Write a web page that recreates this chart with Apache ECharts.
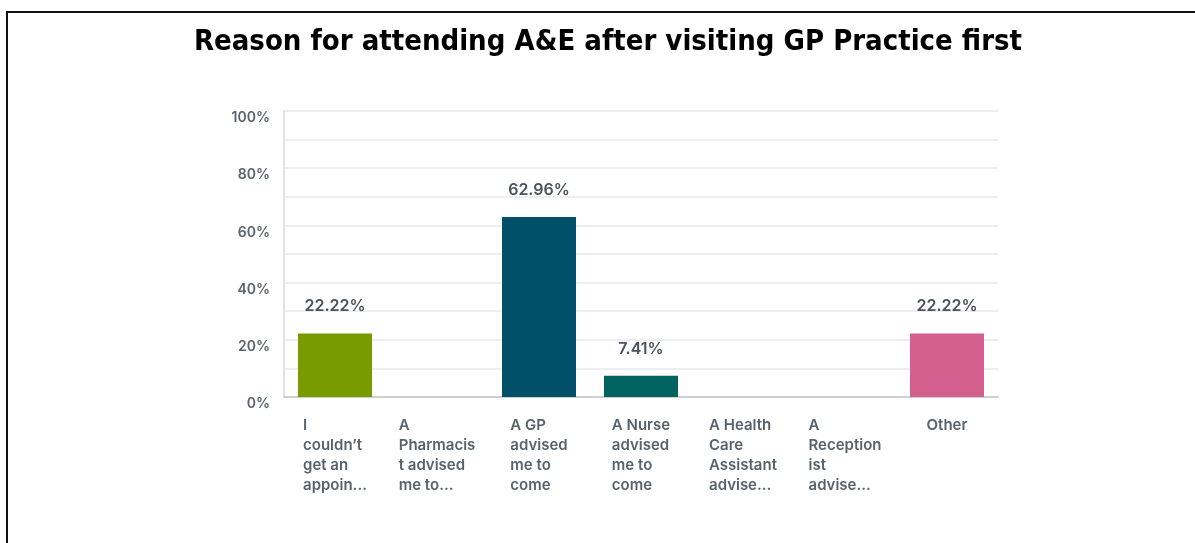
<!DOCTYPE html>
<html>
<head>
<meta charset="utf-8">
<title>Reason for attending A&amp;E after visiting GP Practice first</title>
<script src="https://cdn.jsdelivr.net/npm/echarts@6/dist/echarts.min.js"></script>
<style>
  html, body { margin: 0; padding: 0; background: #ffffff; }
  #frame {
    position: absolute; left: 6px; top: 11px; right: 0; bottom: 0;
    border-top: 2px solid #111; border-left: 2px solid #111;
    box-sizing: border-box;
  }
  #chart { position: absolute; left: 0; top: 0; width: 1195px; height: 543px; }
</style>
</head>
<body>
<div id="frame"></div>
<div id="chart"></div>
<script>
// Answer options (already wrapped and shortened for display under the bars)
const categories = [
  "I\ncouldn\u2019t\nget an\nappoin...",
  "A\nPharmacis\nt advised\nme to...",
  "A GP\nadvised\nme to\ncome",
  "A Nurse\nadvised\nme to\ncome",
  "A Health\nCare\nAssistant\nadvise...",
  "A\nReception\nist\nadvise...",
  "Other"
];
// Share of respondents (%)
const percentages = [22.22, 0, 62.96, 7.41, 0, 0, 22.22];
const barColors = ["#789b00", "#789b00", "#00506a", "#00635f", "#00635f", "#00635f", "#d35f8f"];
const yTicks = [0, 20, 40, 60, 80, 100];

const chart = echarts.init(document.getElementById('chart'), null, { renderer: 'canvas' });

chart.setOption({
  animation: false,
  backgroundColor: 'transparent',
  title: {
    text: 'Reason for attending A&E after visiting GP Practice first',
    left: 603, top: 23, textAlign: 'center',
    textStyle: {
      fontFamily: '"DejaVu Sans Condensed", "DejaVu Sans", sans-serif',
      fontWeight: 'bold', fontSize: 29, color: '#000000'
    }
  },
  grid: { left: 284, right: 197, top: 111, bottom: 146, containLabel: false },
  xAxis: {
    type: 'category',
    data: categories,
    axisLine: { show: true, lineStyle: { color: '#cfcfcf', width: 2 } },
    axisTick: { show: false },
    axisLabel: {
      interval: 0,
      margin: 18,
      align: 'center',
      formatter: v => '{t|' + v + '}',
      rich: {
        t: {
          align: 'left',
          fontFamily: 'Inter, "Open Sans", sans-serif',
          fontWeight: 600, fontSize: 15, lineHeight: 20, color: '#59626b'
        }
      }
    }
  },
  yAxis: {
    type: 'value',
    min: 0, max: 100, interval: 10,
    axisLine: { show: true, lineStyle: { color: '#e2e2e2', width: 2 } },
    axisTick: { show: false },
    splitLine: { show: true, lineStyle: { color: '#eeeeee', width: 2 } },
    axisLabel: {
      margin: 14,
      verticalAlign: 'top',
      showMinLabel: true,
      formatter: v => (yTicks.indexOf(v) >= 0 ? v + '%' : ''),
      fontFamily: 'Inter, "Open Sans", sans-serif',
      fontWeight: 600, fontSize: 14, color: '#59626b'
    }
  },
  series: [{
    type: 'bar',
    barWidth: 74,
    data: percentages.map((v, i) => ({ value: v, itemStyle: { color: barColors[i] } })),
    label: {
      show: true,
      position: 'top',
      distance: 19,
      formatter: p => (p.value > 0 ? p.value.toFixed(2) + '%' : ''),
      fontFamily: 'Inter, "Open Sans", sans-serif',
      fontWeight: 600, fontSize: 16, color: '#4a535c'
    }
  }]
});
</script>
</body>
</html>
